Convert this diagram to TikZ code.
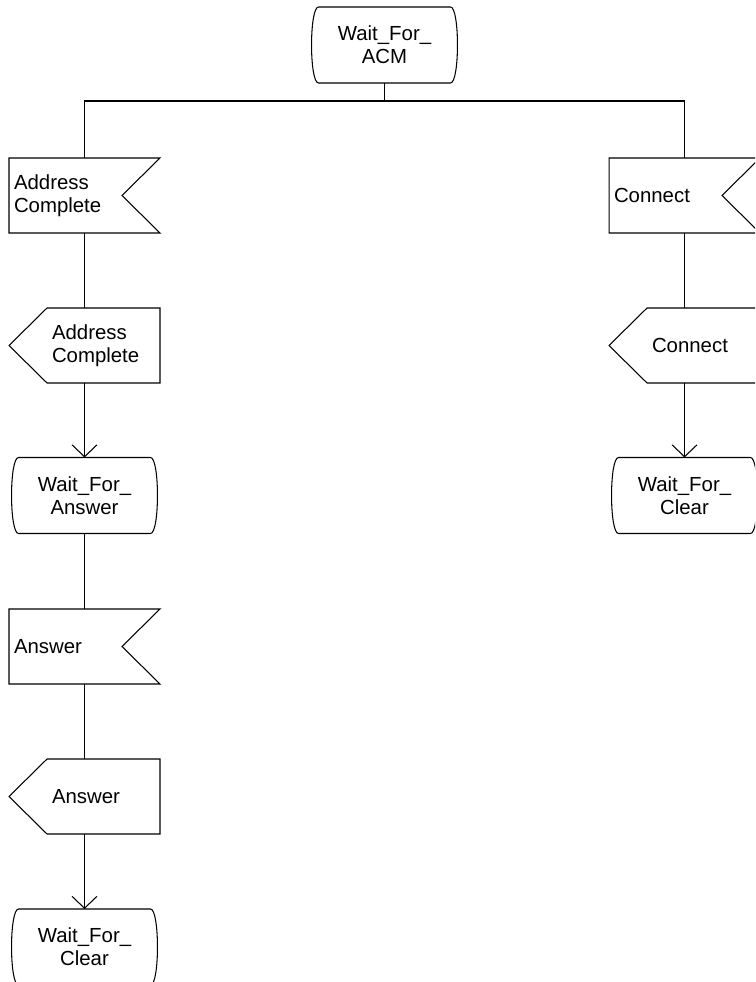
\documentclass[tikz,border=0pt]{standalone}
\usepackage{fontspec}
\setmainfont{Liberation Sans}
\usetikzlibrary{arrows.meta}

\begin{document}
\begin{tikzpicture}[x=0.02cm,y=-0.02cm,line width=0.6pt,
  every node/.style={font=\fontsize{11.6}{13.2}\selectfont,outer sep=0pt,inner ysep=0pt},
  state/.style={minimum width=2.92cm,minimum height=1.52cm,align=center,inner xsep=0pt,text depth=0pt},
  sigin/.style={minimum width=3.02cm,minimum height=1.5cm,text width=2.82cm,inner xsep=0.1cm,align=left},
  sigout/.style={minimum width=2.26cm,minimum height=1.5cm,text width=2.06cm,inner xsep=0.1cm,align=left},
  flow/.style={-{Straight Barb[length=0.24cm,width=0.5cm]}}]
  \useasboundingbox (0,0) rectangle (755,982);
  \clip (0,0) rectangle (755,982);
  % start state and branch point
  \node[state] (acm) at (384.5,45) {Wait\_For\_\\ACM};
  \coordinate (fork) at (384.5,101);
  % left branch
  \node[sigin] (ain) at (84.5,195.5) {Address\\Complete};
  \node[sigout] (aout) at (103.5,345.5) {Address\\Complete};
  \node[state] (wans) at (84.5,495.5) {Wait\_For\_\\Answer};
  \node[sigin] (nin) at (84.5,646.5) {Answer};
  \node[sigout] (nout) at (103.5,796.5) {Answer};
  \node[state] (wclr) at (84.5,947) {Wait\_For\_\\Clear};
  % right branch
  \node[sigin] (cin) at (684.5,195.5) {Connect};
  \node[sigout] (cout) at (703.5,345.5) {Connect};
  \node[state] (cclr) at (684.5,495.5) {Wait\_For\_\\Clear};
  % state, input and output symbols
  \foreach \n in {acm,wans,wclr,cclr}
    \draw ([xshift=0.14cm]\n.north west) -- ([xshift=-0.14cm]\n.north east)
      .. controls ([xshift=0.046cm]\n.north east) and ([xshift=0.046cm]\n.south east) .. ([xshift=-0.14cm]\n.south east)
      -- ([xshift=0.14cm]\n.south west)
      .. controls ([xshift=-0.046cm]\n.south west) and ([xshift=-0.046cm]\n.north west) .. cycle;
  \foreach \n in {ain,nin,cin}
    \draw (\n.north west) -- (\n.north east) -- ([xshift=-0.76cm]\n.east) -- (\n.south east) -- (\n.south west) -- cycle;
  \foreach \n in {aout,nout,cout}
    \draw (\n.north east) -- (\n.north west) -- ([xshift=-0.76cm]\n.west) -- (\n.south west) -- (\n.south east) -- cycle;
  % flow lines
  \draw (acm) -- (fork);
  \draw (ain.north) |- (fork) -| (cin.north);
  \draw (ain) -- (ain |- aout.north);
  \draw[flow] (aout.south -| wans) -- (wans);
  \draw (wans) -- (nin);
  \draw (nin) -- (nin |- nout.north);
  \draw[flow] (nout.south -| wclr) -- (wclr);
  \draw (cin) -- (cin |- cout.north);
  \draw[flow] (cout.south -| cclr) -- (cclr);
\end{tikzpicture}
\end{document}
